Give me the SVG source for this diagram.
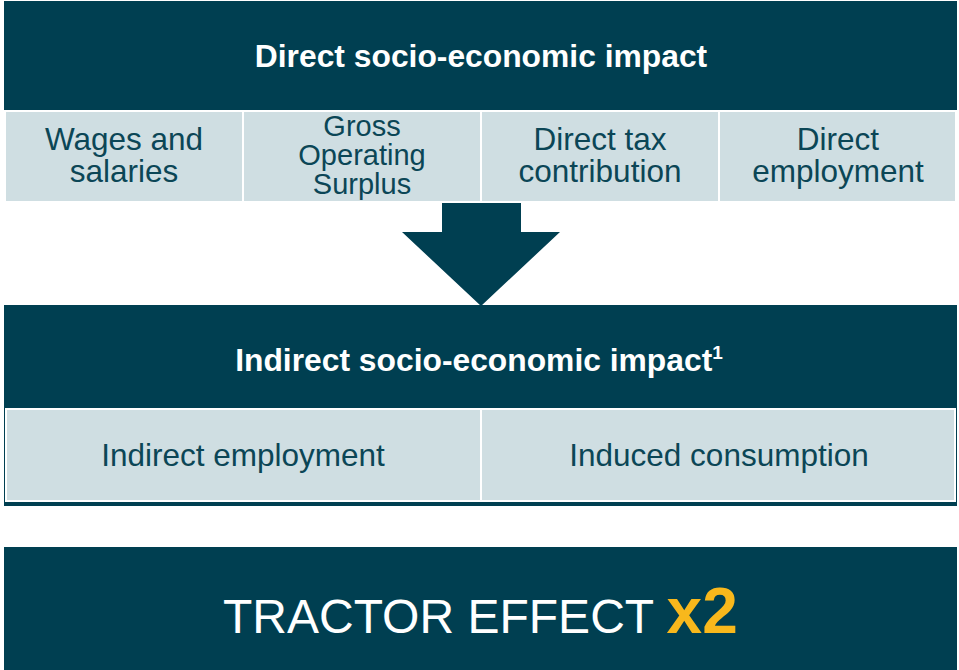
<svg xmlns="http://www.w3.org/2000/svg" width="959" height="670" viewBox="0 0 959 670">
  <style>
    .band { fill: #003f51; }
    .cell { fill: #cfdee2; stroke: #ffffff; stroke-width: 2; }
    .head { font-family: "Liberation Sans", Arial, sans-serif; font-weight: bold; font-size: 31.8px; fill: #ffffff; text-anchor: middle; }
    .sup { font-size: 19px; }
    .lbl { font-family: "Liberation Sans", Arial, sans-serif; font-size: 31.5px; fill: #0b4656; text-anchor: middle; }
    .lbl-s { font-family: "Liberation Sans", Arial, sans-serif; font-size: 29px; fill: #0b4656; text-anchor: middle; }
    .big { font-family: "Liberation Sans", Arial, sans-serif; font-size: 48px; fill: #ffffff; }
    .mult { font-weight: bold; font-size: 64px; fill: #f8b81c; }
  </style>

  <rect width="959" height="670" fill="#ffffff"/>

  <!-- Direct impact block -->
  <g id="direct-impact">
    <rect class="band" x="4" y="1" width="953" height="109"/>
    <text class="head" x="481" y="67">Direct socio-economic impact</text>
  </g>
  <g id="wages">
    <rect class="cell" x="5" y="111" width="238" height="91"/>
    <text class="lbl"><tspan x="124" y="150">Wages and</tspan><tspan x="124" y="182">salaries</tspan></text>
  </g>
  <g id="gross-operating-surplus">
    <rect class="cell" x="243" y="111" width="238" height="91"/>
    <text class="lbl-s"><tspan x="362" y="136">Gross</tspan><tspan x="362" y="165">Operating</tspan><tspan x="362" y="194">Surplus</tspan></text>
  </g>
  <g id="direct-tax">
    <rect class="cell" x="481" y="111" width="238" height="91"/>
    <text class="lbl"><tspan x="600" y="150">Direct tax</tspan><tspan x="600" y="182">contribution</tspan></text>
  </g>
  <g id="direct-employment">
    <rect class="cell" x="719" y="111" width="237" height="91"/>
    <text class="lbl"><tspan x="838" y="150">Direct</tspan><tspan x="838" y="182">employment</tspan></text>
  </g>

  <!-- Downward arrow -->
  <g id="connectors">
    <polygon class="band" points="442,203 521,203 521,232 560,232 481,306 402,232 442,232"/>
  </g>

  <!-- Indirect impact block -->
  <g id="indirect-impact">
    <rect class="band" x="4" y="305" width="953" height="201"/>
    <text class="head" x="479" y="371">Indirect socio-economic impact<tspan class="sup" dy="-12">1</tspan></text>
  </g>
  <g id="indirect-employment">
    <rect class="cell" x="6" y="409" width="475" height="92"/>
    <text class="lbl" x="243" y="466">Indirect employment</text>
  </g>
  <g id="induced-consumption">
    <rect class="cell" x="481" y="409" width="474" height="92"/>
    <text class="lbl" x="719" y="466">Induced consumption</text>
  </g>

  <!-- Result band -->
  <g id="tractor-effect">
    <rect class="band" x="4" y="547" width="953" height="123"/>
    <text class="big" x="223" y="633">TRACTOR EFFECT <tspan class="mult">x2</tspan></text>
  </g>
</svg>
